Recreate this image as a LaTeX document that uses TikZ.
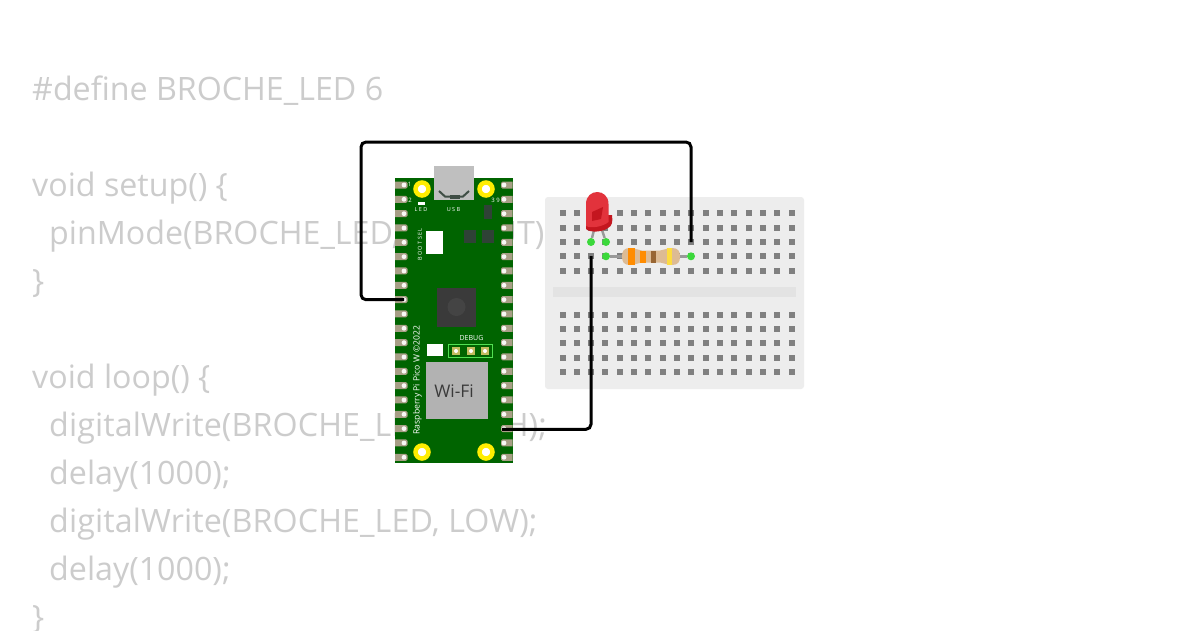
\documentclass[tikz,border=0pt]{standalone}
\usepackage{fontspec}
\setmainfont{Open Sans}
\usetikzlibrary{positioning,calc}

\definecolor{codegray}{HTML}{CCCCCC}
\definecolor{picogreen}{HTML}{006400}
\definecolor{padtan}{HTML}{A89F86}
\definecolor{boardgray}{HTML}{EDEDED}
\definecolor{channelgray}{HTML}{E3E3E3}
\definecolor{holegray}{HTML}{808080}
\definecolor{chipgray}{HTML}{3A3A3A}
\definecolor{smdgray}{HTML}{2F4236}
\definecolor{ledred}{HTML}{E2333C}
\definecolor{leddark}{HTML}{C4161F}
\definecolor{legreen}{HTML}{3BD83B}
\definecolor{restan}{HTML}{DDBB94}
\newfontfamily\widecode[LetterSpace=0.38]{Open Sans}

\tikzset{
  code/.style={anchor=base west, inner sep=0pt, text=codegray, font=\fontsize{32.2}{32}\selectfont},
  widecodeline/.style={code, font=\widecode\fontsize{32.2}{32}\selectfont},
  silk/.style={inner sep=0pt, text=white, font=\fontsize{7}{7}\selectfont},
  tinysilk/.style={silk, font=\fontsize{6}{6}\selectfont},
  wire/.style={line width=3pt, black, rounded corners=5pt},
  mounthole/.style={circle, draw=yellow!95!orange, line width=4.5pt, fill=white, minimum size=13pt, inner sep=0pt},
  junction/.style={circle, fill=legreen, minimum size=8pt, inner sep=0pt},
  lead/.style={line width=2.5pt, color=gray!80}
}

\begin{document}
\begin{tikzpicture}[x=1pt, y=-1pt]
    \useasboundingbox (0,0) rectangle (1200,630);
    \fill[white] (0,0) rectangle (1200,630);

    % Code
    \node[code] (l1) at (32,100) {\#define BROCHE\_LED 6};
    \node[code] (l2) at (32,196) {void setup() \{};
    \node[code] (l3) at (49,244) {pinMode(BROCHE\_LED, OUTPUT);};
    \node[code] (l4) at (32,292) {\}};
    \node[code] (l5) at (32,388) {void loop() \{};
    \node[widecodeline] (l6) at (49,436) {digitalWrite(BROCHE\_LED, HIGH);};
    \node[code] (l7) at (49,484) {delay(1000);};
    \node[widecodeline] (l8) at (49,532) {digitalWrite(BROCHE\_LED, LOW);};
    \node[code] (l9) at (49,580) {delay(1000);};
    \node[code] (l10) at (32,628) {\}};

    % Breadboard
    \fill[boardgray, rounded corners=3pt] (545,197) rectangle (804,389);
    \fill[channelgray] (553,287) rectangle (796,297);
    \foreach \i in {0,...,16}{
      \foreach \y in {213.3,227.6,242,256.3,270.6,314.7,329,343.4,357.7,372}{
        \fill[holegray] ({562.5+14.33*\i-3},\y-3) rectangle ++(6,6);
      }
    }

    % Pico board
    \fill[picogreen] (395,178) rectangle (512.7,463);
    \begin{scope}
      \clip (395,178) rectangle (512.7,463);
      \foreach \i in {0,...,19}{
        \fill[padtan, rounded corners=1.5pt] (393,{185+14.33*\i-3.5}) rectangle ++(14.5,7);
        \fill[padtan, rounded corners=1.5pt] (501,{185+14.33*\i-3.5}) rectangle ++(14,7);
        \fill[white!92!padtan] (404,{185+14.33*\i}) circle (2.4);
        \fill[white!92!padtan] (504,{185+14.33*\i}) circle (2.4);
      }
    \end{scope}

    % USB
    \fill[gray!50] (434,166) rectangle (474,199.5);
    \draw[smdgray!80!gray, line width=2pt] (439,191) -- (445,196.5) -- (463,196.5) -- (469,191);
    \fill[smdgray!80!gray] (450,195) rectangle (460,199);

    % Mounting holes
    \node[mounthole] (m1) at (422,189) {};
    \node[mounthole] (m2) at (486,189) {};
    \node[mounthole] (m3) at (422,452) {};
    \node[mounthole] (m4) at (486,452) {};

    % Parts on the board
    \fill[white] (426,231) rectangle (443,254);
    \fill[white] (418,201.5) rectangle (425,205);
    \fill[smdgray] (464,230) rectangle (476,243);
    \fill[smdgray] (482,230) rectangle (494,243);
    \fill[smdgray] (484,205) rectangle (492,219);
    \fill[chipgray] (437,288) rectangle (476,326.5);
    \fill[chipgray!95!white] (456.5,307) circle (9);
    \fill[white] (427,344) rectangle (443,356);
    \draw[green!60!white!80!picogreen, line width=0.5pt] (448,344) rectangle (492,357);
    \foreach \x in {456,471,485}{
      \fill[padtan!70!yellow] (\x-4,347) rectangle ++(8,8);
      \fill[white] (\x,351) circle (2);
    }
    \fill[gray!60] (426,362) rectangle (488,419);

    % Silkscreen
    \node[text=chipgray, inner sep=0pt, font=\fontsize{17.4}{17}\selectfont] (wifi) at (454,391) {Wi-Fi};
    \node[silk, rotate=90, font=\fontsize{8.6}{8.6}\selectfont] (name) at (417.5,380) {Raspberry Pi Pico W ©2022};
    \node[silk, rotate=90, font=\fontsize{5.5}{5.5}\selectfont] (boot) at (420,244.5) {B O O T S E L};
    \node[silk] (debug) at (471.5,338) {DEBUG};
    \node[tinysilk, font=\fontsize{5.5}{5.5}\selectfont] (led) at (421,210) {L E D};
    \node[tinysilk, font=\fontsize{5.5}{5.5}\selectfont] (usb) at (453.5,210) {U S B};
    \node[tinysilk] (p1) at (409.5,184) {1};
    \node[tinysilk] (p2) at (410,200) {2};
    \node[tinysilk] (p39) at (495.5,200) {3 9};

    % Resistor
    \node[junction] (ra) at (606,256.3) {};
    \node[junction] (rb) at (691,256.3) {};
    \draw[lead] (ra) -- (rb);
    \fill[restan] (622,256.3) .. controls (622,251) and (624,248) .. (630,248)
      .. controls (636,248) and (638,250.5) .. (642,250.5) -- (660,250.5)
      .. controls (664,250.5) and (666,248) .. (672,248)
      .. controls (678,248) and (680,251) .. (680,256.3)
      .. controls (680,262) and (678,265) .. (672,265)
      .. controls (666,265) and (664,262.5) .. (660,262.5) -- (642,262.5)
      .. controls (638,262.5) and (636,265) .. (630,265)
      .. controls (624,265) and (622,262) .. (622,256.3) -- cycle;
    \fill[orange!90!yellow] (628,248) rectangle (635,265);
    \fill[orange!90!yellow] (640,250.5) rectangle (646,262.5);
    \fill[brown!80!black] (651,250.5) rectangle (656,262.5);
    \fill[yellow!70!orange!75] (667,248) rectangle (672,265);

    % LED
    \node[junction] (la) at (591,242) {};
    \node[junction] (lb) at (606,242) {};
    \draw[lead] (594,230) -- (la);
    \draw[lead] (602,230) -- (lb);
    \fill[leddark] (586,215) -- (612,215) .. controls (613,222) and (612,226) .. (608,228)
      .. controls (603,232) and (590,233) .. (586,229) -- cycle;
    \fill[ledred] (586,226) -- (586,204) .. controls (586,188) and (608.5,188) .. (608.5,204)
      -- (608.5,222) .. controls (604,226) and (592,229) .. (586,226) -- cycle;
    \fill[leddark] (592,212) -- (603,207) -- (601,219) -- (592,221) -- cycle;

    % Wires
    \coordinate (pinl) at (404,299.7);
    \coordinate (pinr) at (502,429.3);
    \coordinate (wa) at (691,242);
    \coordinate (wb) at (591,256);
    \draw[wire] (pinl) -- (361,299.7) -- (361,142) -- (691,142) -- (wa);
    \draw[wire] (pinr) -- (591,429.3) -- (wb);
\end{tikzpicture}
\end{document}
